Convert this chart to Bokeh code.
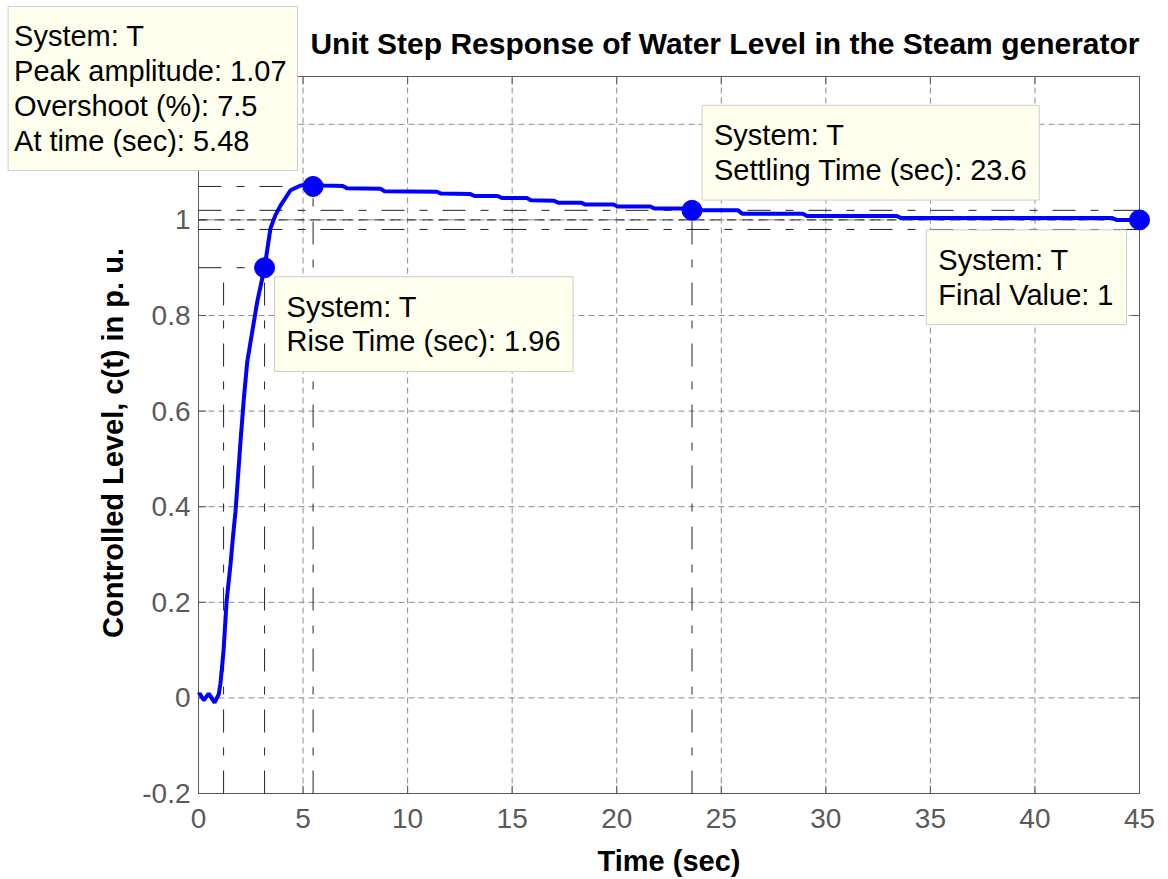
import math
from bokeh.plotting import figure
from bokeh.models import Range1d, Label, ColumnDataSource
from bokeh.core.properties import value
from bokeh.embed import file_html
from bokeh.resources import INLINE

# Step response of the controlled water level (time in s, level in p.u.)
time_s = [0.0, 0.06, 0.25, 0.49, 0.77, 0.97, 1.05, 1.20, 1.34, 1.53, 1.66, 1.77,
          2.01, 2.17, 2.33, 2.49, 2.81, 3.05, 3.16, 3.44, 3.68, 3.92, 4.40, 4.88,
          5.48, 6.0, 6.9, 7.1, 8.7, 8.9, 11.4, 11.6, 13.0, 13.2, 14.3, 14.5,
          15.7, 15.9, 17.0, 17.2, 18.3, 18.5, 19.85, 20.05, 21.6, 21.8, 23.4,
          23.6, 25.8, 26.0, 28.9, 29.1, 33.4, 33.6, 43.7, 43.9, 45.0]
level = [0.006, 0.009, -0.005, 0.009, -0.010, 0.008, 0.030, 0.100, 0.200, 0.279,
         0.342, 0.390, 0.537, 0.627, 0.703, 0.745, 0.829, 0.878, 0.900, 0.982,
         1.010, 1.030, 1.062, 1.072, 1.074, 1.072, 1.071, 1.066, 1.065, 1.060,
         1.059, 1.055, 1.054, 1.050, 1.050, 1.046, 1.046, 1.041, 1.040, 1.036,
         1.036, 1.032, 1.032, 1.028, 1.028, 1.024, 1.024, 1.020, 1.020, 1.013,
         1.013, 1.008, 1.008, 1.004, 1.004, 1.000, 1.000]

# Step-response characteristics
rise_start = 1.20
rise_time = 1.96
rise_end = rise_start + rise_time
rise_level = 0.9
peak_time = 5.48
peak_amp = 1.07
overshoot = 7.5
settle_time = 23.6
settle_level = 1.02
band_low, band_high = 0.98, 1.02
final_value = 1.0

# axes limits and ticks
t_min, t_max = 0.0, 45.0
y_min, y_max = -0.2, 1.3
x_ticks = [0, 5, 10, 15, 20, 25, 30, 35, 40, 45]
y_ticks = [-0.2, 0.0, 0.2, 0.4, 0.6, 0.8, 1.0, 1.2]
x_tick_labels = ["0", "5", "10", "15", "20", "25", "30", "35", "40", "45"]
y_tick_labels = ["-0.2", "0", "0.2", "0.4", "0.6", "0.8", "1", "1.2"]

title = "Unit Step Response of Water Level in the Steam generator"
x_label = "Time (sec)"
y_label = "Controlled Level, c(t) in p. u."

# page geometry (pixels): the axes box sits inside a full-canvas frame so the
# data tips may extend past the box edges
W, H = 1168, 879
BOX_L, BOX_R, BOX_T, BOX_B = 198, 1139, 76, 793
px_t = (BOX_R - BOX_L) / (t_max - t_min)
px_y = (BOX_B - BOX_T) / (y_max - y_min)
x_lo = t_min - BOX_L / px_t
x_hi = x_lo + W / px_t
y_hi = y_max + BOX_T / px_y
y_lo = y_hi - H / px_y

BLUE = "#0000FF"
REF = "#222222"
AXIS_GREY = "#5a5a5a"
GRID = "#8c8c8c"
TIP_BG = "#FFFFEE"
FONT = "Liberation Sans"

p = figure(width=W, height=H, x_range=Range1d(x_lo, x_hi),
           y_range=Range1d(y_lo, y_hi), output_backend="svg",
           toolbar_location=None, x_axis_type=None, y_axis_type=None,
           min_border=0)
p.outline_line_color = None
p.background_fill_color = "white"
p.border_fill_color = "white"

# grid
p.segment(x_ticks, [y_min] * len(x_ticks), x_ticks, [y_max] * len(x_ticks),
          line_color=GRID, line_dash="6 4", line_width=1)
p.segment([t_min] * len(y_ticks), y_ticks, [t_max] * len(y_ticks), y_ticks,
          line_color=GRID, line_dash="6 4", line_width=1)

# axes box with inward ticks on all four sides
p.quad(left=[t_min], right=[t_max], bottom=[y_min], top=[y_max],
       fill_color=None, line_color=AXIS_GREY, line_width=1)
tick_t = 8 / px_t
tick_y = 8 / px_y
nx, ny = len(x_ticks), len(y_ticks)
p.segment(x_ticks, [y_min] * nx, x_ticks, [y_min + tick_y] * nx, line_color=AXIS_GREY)
p.segment(x_ticks, [y_max] * nx, x_ticks, [y_max - tick_y] * nx, line_color=AXIS_GREY)
p.segment([t_min] * ny, y_ticks, [t_min + tick_t] * ny, y_ticks, line_color=AXIS_GREY)
p.segment([t_max] * ny, y_ticks, [t_max - tick_t] * ny, y_ticks, line_color=AXIS_GREY)

# tick labels
p.text(x_ticks, [y_min] * nx, text=x_tick_labels, text_align="center",
       text_baseline="top", y_offset=15, text_font=value(FONT),
       text_font_size=value("28px"), text_color=AXIS_GREY)
p.text([t_min] * ny, y_ticks, text=y_tick_labels, text_align="right",
       text_baseline="middle", x_offset=-8, text_font=value(FONT),
       text_font_size=value("28px"), text_color=AXIS_GREY)

# axis labels and title
p.text([(t_min + t_max) / 2], [y_min], text=[x_label], text_align="center",
       text_baseline="alphabetic", y_offset=67, text_font=value(FONT),
       text_font_size=value("29px"), text_font_style="bold", text_color="black")
p.text([t_min - 86 / px_t], [(y_min + y_max) / 2 - 8 / px_y], text=[y_label],
       angle=math.pi / 2, text_align="center", text_baseline="middle",
       text_font=value(FONT), text_font_size=value("29px"),
       text_font_style="bold", text_color="black")
p.text([t_max], [y_max], text=[title], text_align="right",
       text_baseline="alphabetic", y_offset=-33, text_font=value(FONT),
       text_font_size=value("30px"), text_font_style="bold", text_color="black")

# characteristic marker lines (dash-dot)
ref = ColumnDataSource(dict(
    x0=[t_min, t_min, t_min, t_min, rise_start, rise_end, peak_time, settle_time],
    y0=[rise_level, peak_amp, band_low, band_high, y_min, y_min, y_min, y_min],
    x1=[rise_end, peak_time, t_max, t_max, rise_start, rise_end, peak_time, settle_time],
    y1=[rise_level, peak_amp, band_low, band_high, rise_level, rise_level, peak_amp,
        settle_level],
))
p.segment("x0", "y0", "x1", "y1", source=ref, line_color=REF, line_width=1,
          line_dash="23 15 8 15")
# final value line (dashed)
p.segment([t_min], [final_value], [t_max], [final_value], line_color=REF,
          line_width=1, line_dash="10 6")

# response curve and characteristic points
p.line(time_s, level, line_color=BLUE, line_width=4)
p.scatter([rise_end, peak_time, settle_time, t_max],
          [rise_level, peak_amp, settle_level, final_value],
          size=20, fill_color=BLUE, line_color=BLUE)


def tip(x, y, text, anchor, dx, dy, pad):
    return Label(x=x, y=y, text=text, anchor=anchor, x_offset=dx, y_offset=dy,
                 text_font=FONT, text_font_size="29px", text_color="black",
                 text_line_height=1.085, background_fill_color=TIP_BG,
                 border_line_color="#cccccc", border_line_width=1, padding=pad)


p.add_layout(tip(peak_time, peak_amp,
                 f"System: T\nPeak amplitude: {peak_amp}\nOvershoot (%): {overshoot}\n"
                 f"At time (sec): {peak_time}",
                 "top_left", -305, 180, dict(left=6, right=11, top=14, bottom=14)))
p.add_layout(tip(rise_end, rise_level,
                 f"System: T\nRise Time (sec): {rise_time}",
                 "top_left", 10, -9, dict(left=12, right=12, top=14, bottom=14)))
p.add_layout(tip(settle_time, settle_level,
                 f"System: T\nSettling Time (sec): {settle_time}",
                 "top_left", 10, 105, dict(left=12, right=12, top=14, bottom=14)))
p.add_layout(tip(t_max, final_value,
                 f"System: T\nFinal Value: {final_value:g}",
                 "top_right", -13, -10, dict(left=12, right=13, top=14, bottom=14)))

open("out.html", "w").write(file_html(p, INLINE))
